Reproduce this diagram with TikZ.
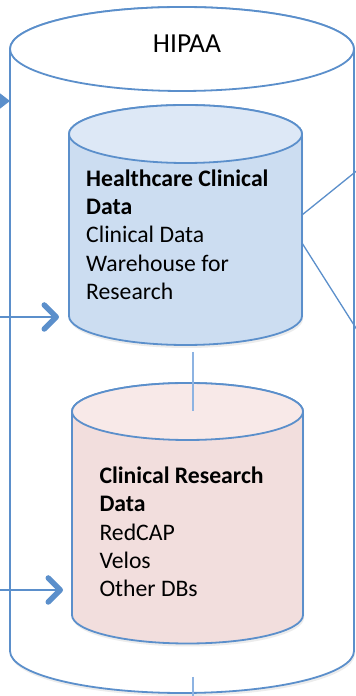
\documentclass[tikz,border=0pt]{standalone}
\usepackage{fontspec}
\setmainfont{Carlito}
\usetikzlibrary{arrows.meta,shadows}
\definecolor{edgeblue}{HTML}{5B8FCB}
\definecolor{linkblue}{HTML}{8DB3E2}
\definecolor{hcdbody}{HTML}{CCDDF1}
\definecolor{hcdlid}{HTML}{DDE8F6}
\definecolor{crdbody}{HTML}{F2DEDD}
\definecolor{crdlid}{HTML}{F8E9E8}
% drum: body fill, lid fill, centre x, x radius, top y, bottom y, y radius
\newcommand{\drum}[7]{%
  \path[draw=edgeblue,fill=#1,line width=1.8pt,
        drop shadow={shadow xshift=1pt,shadow yshift=-3pt,opacity=.15}]
    (#3-#4,#5) -- (#3-#4,#6)
    arc[start angle=180,end angle=360,x radius=#4pt,y radius=#7pt]
    -- (#3+#4,#5)
    arc[start angle=0,end angle=180,x radius=#4pt,y radius=#7pt] -- cycle;
  \path[draw=edgeblue,fill=#2,line width=1.8pt]
    (#3,#5) ellipse[x radius=#4pt,y radius=#7pt];}
\begin{document}
\begin{tikzpicture}[x=1pt,y=1pt,
  dbtext/.style={align=left,inner sep=0pt,anchor=north west,
                 font=\fontsize{23.7}{28.3}\selectfont},
  link/.style={linkblue,line width=1.4pt},
  wire/.style={edgeblue,line width=1.3pt},
  feed/.style={edgeblue,line width=1.5pt,
               -{Straight Barb[length=12pt,width=24pt,line width=5.5pt,round]}}]
\useasboundingbox (0,0) rectangle (356,696);
\clip (0,0) rectangle (356,696);
% outer HIPAA drum
\drum{white}{white}{182}{172}{647}{45}{42}
\node[font=\fontsize{27.5}{33}\selectfont,anchor=base] (hipaa) at (187,643) {HIPAA};
% inner drums
\drum{hcdbody}{hcdlid}{185.5}{116.5}{562}{380}{29}
\drum{crdbody}{crdlid}{187.5}{115.5}{284.5}{81}{28.5}
\node[dbtext] (hcd) at (86,526.5)
  {\textbf{Healthcare Clinical}\\\textbf{Data}\\Clinical Data\\Warehouse for\\Research};
\node[dbtext] (crd) at (99.3,229.3)
  {\textbf{Clinical Research}\\\textbf{Data}\\RedCAP\\Velos\\Other DBs};
% connection points
\coordinate (hcd-s) at (193,344);
\coordinate (crd-lid) at (193,284.5);
\coordinate (hipaa-s) at (193,19);
\coordinate (hipaa-out) at (193,-5);
\coordinate (hcd-e1) at (302,481);
\coordinate (hcd-e2) at (302,453);
\coordinate (out1) at (358,526.2);
\coordinate (out2) at (358,364.7);
\coordinate (in0) at (-20,595);
\coordinate (hipaa-w) at (10,595);
\coordinate (in1) at (-5,379);
\coordinate (hcd-w) at (59,379);
\coordinate (in2) at (-5,106);
\coordinate (crd-w) at (63,106);
% connectors
\draw[link] (hcd-s) -- (crd-lid);
\draw[link] (hipaa-s) -- (hipaa-out);
\draw[wire] (hcd-e1) -- (out1);
\draw[wire] (hcd-e2) -- (out2);
\draw[edgeblue,line width=1.5pt,-{Triangle[length=10pt,width=15pt]}] (in0) -- (hipaa-w);
\draw[feed] (in1) -- (hcd-w);
\draw[feed] (in2) -- (crd-w);
\end{tikzpicture}
\end{document}
